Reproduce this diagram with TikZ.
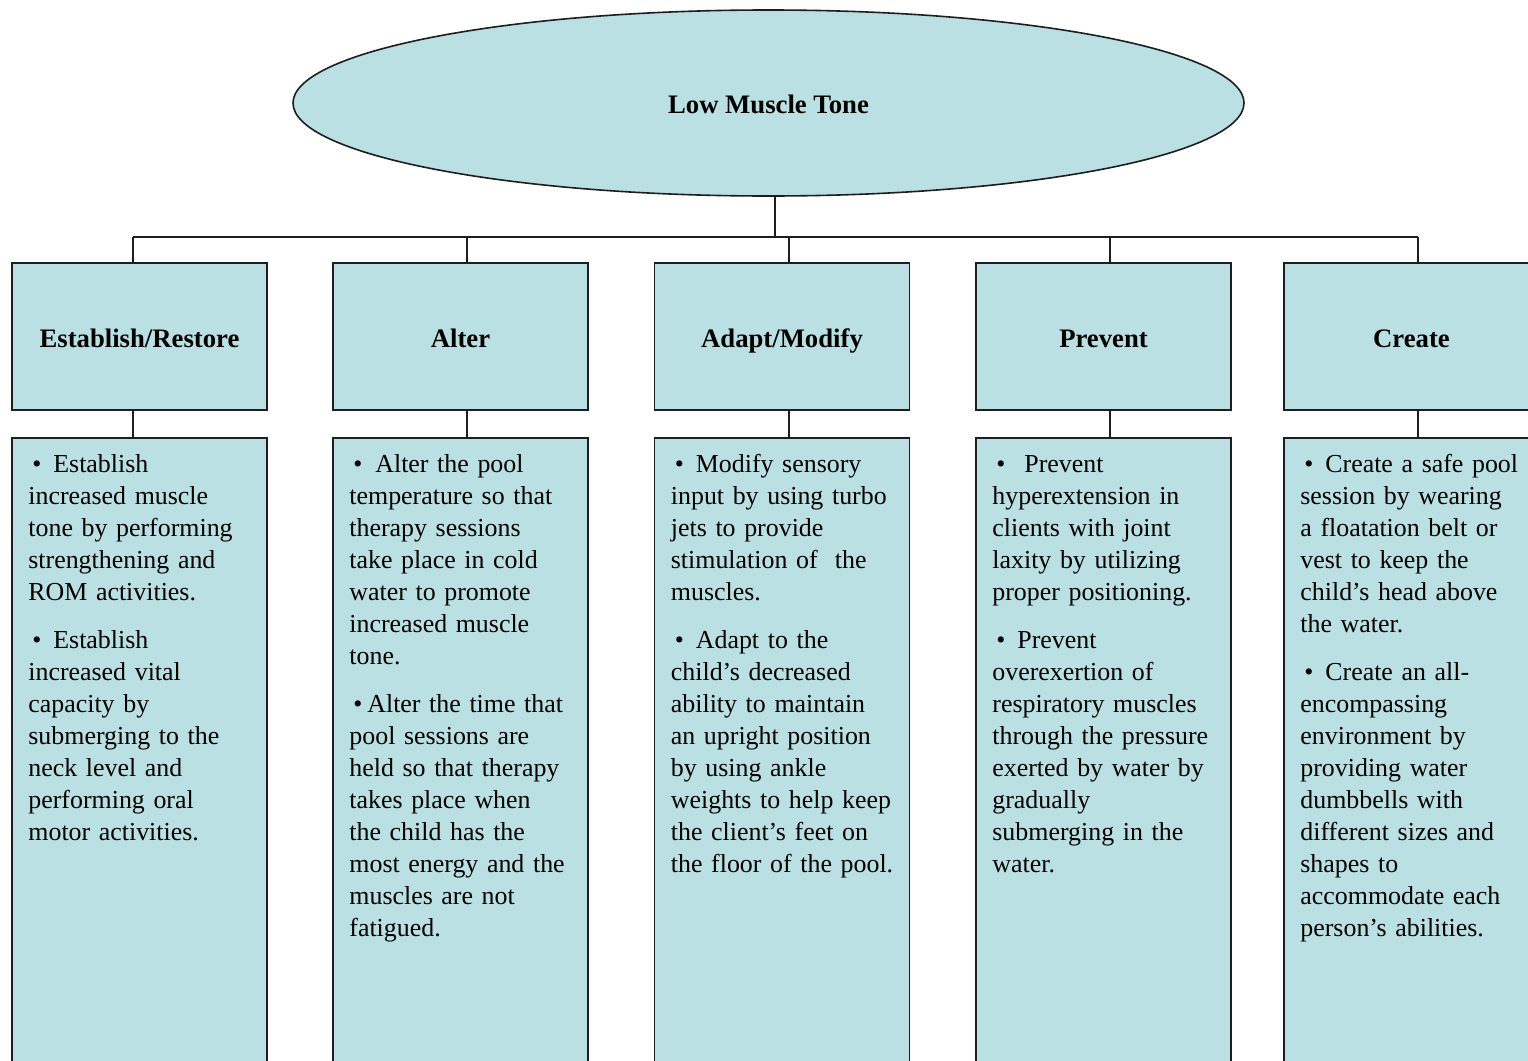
\documentclass[tikz,border=0pt]{standalone}
\usepackage{fontspec}
\setmainfont{Liberation Serif}
\usetikzlibrary{shapes.geometric,calc}
\definecolor{boxfill}{HTML}{BAE0E3}
\definecolor{edge}{HTML}{1E1E1E}
% bullet with a fixed gap before the item text
\newcommand{\bul}[1]{\hspace*{4pt}\makebox[#1pt][l]{\textbullet}}
\tikzset{
  shell/.style={draw=edge, line width=1.6pt, fill=boxfill},
  headbox/.style={shell, rectangle, minimum width=255pt, minimum height=147pt,
    inner sep=0pt, text height=27pt, text depth=6pt,
    font=\fontsize{26.7}{32}\selectfont\bfseries},
  bodybox/.style={shell, rectangle, minimum width=255pt, minimum height=660pt,
    anchor=north, inner sep=0pt},
  bodytext/.style={anchor=base west, inner sep=0pt, text width=240pt, align=left,
    font=\fontsize{25.9}{32}\selectfont},
  link/.style={draw=edge, line width=1.7pt}
}
\begin{document}
\begin{tikzpicture}[x=1pt, y=-1pt]
\useasboundingbox (0,0) rectangle (1528,1060);
\clip (0,0) rectangle (1528,1060);
\fill[white] (0,0) rectangle (1528,1060);

% top concept
\node[shell, ellipse, minimum width=951pt, minimum height=186pt, inner sep=0pt,
  text height=27pt, text depth=6pt,
  font=\fontsize{26.7}{32}\selectfont\bfseries] (top) at (768.5,103) {Low Muscle Tone};

% category headers
\node[headbox] (h1) at (139.5,336.5) {Establish/Restore};
\node[headbox] (h2) at (460.5,336.5) {Alter};
\node[headbox] (h3) at (782,336.5) {Adapt/Modify};
\node[headbox] (h4) at (1103.5,336.5) {Prevent};
\node[headbox] (h5) at (1411.5,336.5) {Create};

% detail boxes
\node[bodybox] (b1) at (139.5,437) {};
\node[bodybox] (b2) at (460.5,437) {};
\node[bodybox] (b3) at (782,437) {};
\node[bodybox] (b4) at (1103.5,437) {};
\node[bodybox] (b5) at (1411.5,437) {};

% connectors
\coordinate (j) at (775,237);
\coordinate (k1) at (133,237);
\coordinate (k2) at (467,237);
\coordinate (k3) at (789,237);
\coordinate (k4) at (1110,237);
\coordinate (k5) at (1418,237);
\draw[link] (j |- top.south) -- (j);
\draw[link] (k1) -- (k5);
\foreach \i in {1,...,5}{
  \draw[link] (k\i) -- (k\i |- h\i.north);
  \draw[link] (k\i |- h\i.south) -- (k\i |- b\i.north);
}

% detail texts
\node[bodytext] (t1) at ($(b1.north west)+(17,35)$) {%
\bul{21}Establish\\ increased muscle\\ tone by performing\\ strengthening and\\ ROM activities.\\[16pt]
\bul{21}Establish\\ increased vital\\ capacity by\\ submerging to the\\ neck level and\\ performing oral\\ motor activities.};

\node[bodytext] (t2) at ($(b2.north west)+(17,35)$) {%
\bul{22}Alter the pool\\ temperature so that\\ therapy sessions\\ take place in cold\\ water to promote\\ increased muscle\\ tone.\\[16pt]
\bul{14}Alter the time that\\ pool sessions are\\ held so that therapy\\ takes place when\\ the child has the\\ most energy and the\\ muscles are not\\ fatigued.};

\node[bodytext] (t3) at ($(b3.north west)+(17,35)$) {%
\bul{21}Modify sensory\\ input by using turbo\\ jets to provide\\ stimulation of\ \ the\\ muscles.\\[16pt]
\bul{21}Adapt to the\\ child’s decreased\\ ability to maintain\\ an upright position\\ by using ankle\\ weights to help keep\\ the client’s feet on\\ the floor of the pool.};

\node[bodytext] (t4) at ($(b4.north west)+(17,35)$) {%
\bul{28}Prevent\\ hyperextension in\\ clients with joint\\ laxity by utilizing\\ proper positioning.\\[16pt]
\bul{21}Prevent\\ overexertion of\\ respiratory muscles\\ through the pressure\\ exerted by water by\\ gradually\\ submerging in the\\ water.};

\node[bodytext] (t5) at ($(b5.north west)+(17,35)$) {%
\bul{21}Create a safe pool\\ session by wearing\\ a floatation belt or\\ vest to keep the\\ child’s head above\\ the water.\\[16pt]
\bul{21}Create an all-\\ encompassing\\ environment by\\ providing water\\ dumbbells with\\ different sizes and\\ shapes to\\ accommodate each\\ person’s abilities.};
\end{tikzpicture}
\end{document}
